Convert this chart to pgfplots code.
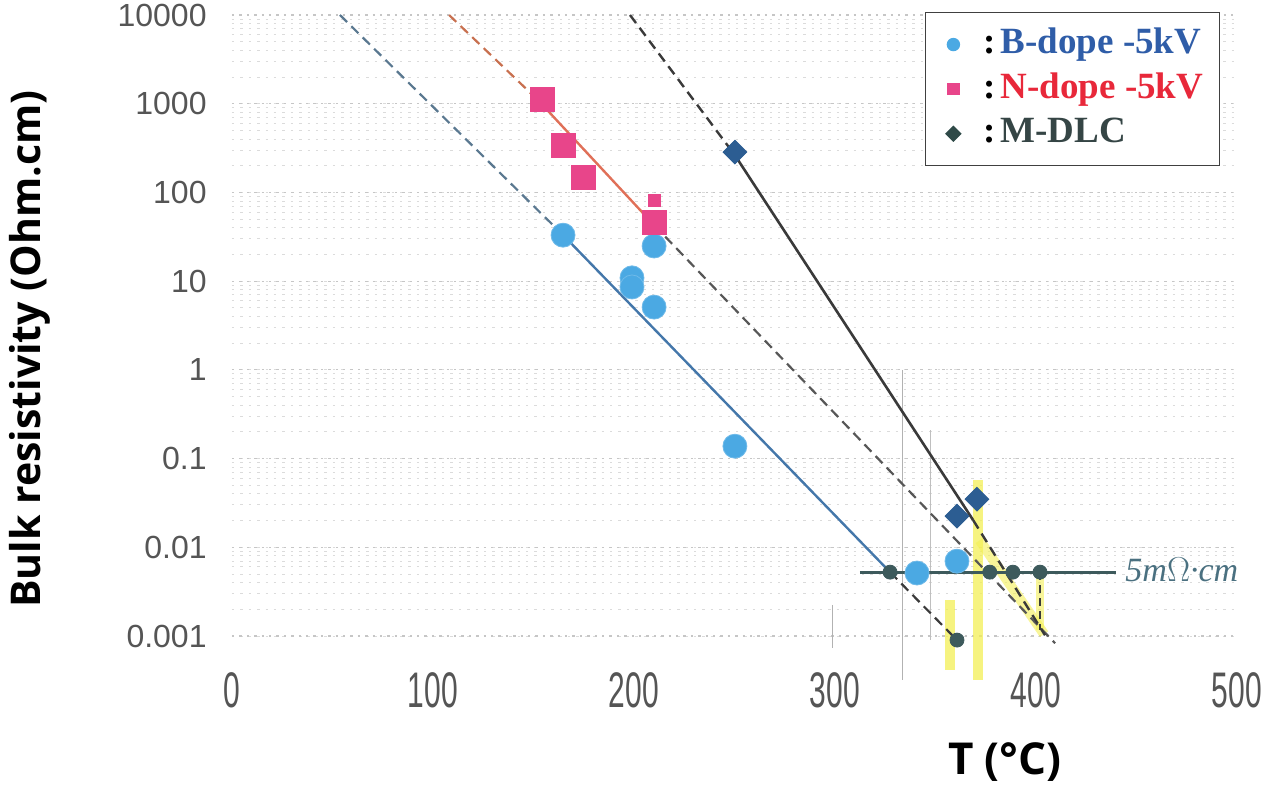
\documentclass[border=0pt]{standalone}
\usepackage{fontspec}
\setmainfont{Liberation Sans}
\newfontfamily\osans{Open Sans}
\newfontfamily\lserif{Liberation Serif}
\usepackage{graphicx}
\usepackage{pgfplots}
\pgfplotsset{compat=1.18}
\definecolor{cB}{HTML}{4BA9E3}
\definecolor{cN}{HTML}{E8458A}
\definecolor{cM}{HTML}{2C5D92}
\definecolor{cMleg}{HTML}{2F4A48}
\definecolor{cBline}{HTML}{4477AA}
\definecolor{cBdash}{HTML}{5A7890}
\definecolor{cRline}{HTML}{E07058}
\definecolor{cRdash}{HTML}{C8704F}
\definecolor{cDark}{HTML}{3A3A3A}
\definecolor{cHor}{HTML}{3D5A5C}
\definecolor{cHand}{HTML}{4A7080}
\definecolor{cBtext}{HTML}{2F5DA8}
\definecolor{cNtext}{HTML}{E8283A}
\definecolor{cMtext}{HTML}{354545}
\definecolor{tickgray}{HTML}{555555}
\definecolor{hl}{HTML}{F3EF55}
\newcommand\xt[1]{\scalebox{0.6}[1]{#1}}
\begin{document}
\begin{tikzpicture}
\begin{axis}[
  at={(0pt,0pt)}, anchor=south west,
  scale only axis, width=502.5pt, height=315.8pt,
  xmin=0, xmax=500, ymode=log, ymin=7.6e-4, ymax=1e4,
  clip=false,
  axis line style={draw=none},
  major tick length=0pt, minor tick length=0pt,
  xtick={0,100,200,300,400,500},
  xticklabels={\xt{0},\xt{100},\xt{200},\xt{300},\xt{400},\xt{500}},
  ytick={0.001,0.01,0.1,1,10,100,1000,10000},
  yticklabels={0.001,0.01,0.1,1,10,100,1000,10000},
  /pgf/number format/assume math mode=true,
  xticklabel style={font=\fontsize{25}{25}\selectfont, text=tickgray, anchor=north, inner sep=0pt, yshift=-12.7pt},
  yticklabel style={font=\fontsize{16}{18}\selectfont, text=tickgray, anchor=east, inner sep=0pt, xshift=-12.5pt},
  ymajorgrids, yminorgrids,
  major grid style={gray!45, line width=0.6pt, dash pattern=on 1.2pt off 2.5pt},
  minor grid style={gray!28, line width=0.5pt, dash pattern=on 1.2pt off 3pt},
  ylabel={Bulk resistivity (Ohm.cm)},
  ylabel style={font=\osans\bfseries\fontsize{20.5}{22}\selectfont, at={(axis description cs:-0.201,0.471)}, anchor=center},
  xlabel={T (°C)},
  xlabel style={font=\osans\bfseries\fontsize{22}{24}\selectfont, at={(axis description cs:0.769,-0.183)}, anchor=center},
  legend style={at={(axis description cs:0.983,1.005)}, anchor=north east,
    draw=black!75, line width=0.7pt, fill=white,
    font=\lserif\bfseries\fontsize{18.5}{22}\selectfont,
    inner xsep=8pt, inner ysep=7.5pt, row sep=5.3pt, column sep=11pt,
    nodes={inner sep=0pt, text height=13pt, text depth=4pt}},
  legend cell align=left,
]
% highlight and scan marks
\addplot[forget plot, hl, line width=5pt, opacity=0.75] coordinates {(371.1,0.0575) (371.1,3.18e-4)};
\addplot[forget plot, hl, line width=5pt, opacity=0.75] coordinates {(357.2,0.00254) (357.2,4.13e-4)};
\addplot[forget plot, hl, line width=5pt, opacity=0.6] coordinates {(372,0.012) (404,0.00105)};
\addplot[forget plot, hl, line width=4pt, opacity=0.6] coordinates {(402,0.0052) (402,0.00117)};
\addplot[forget plot, gray!60, line width=0.5pt] coordinates {(333.8,1) (333.8,3.2e-4)};
\addplot[forget plot, gray!50, line width=0.5pt] coordinates {(347.3,0.21) (347.3,0.0009)};
\addplot[forget plot, gray!60, line width=0.5pt] coordinates {(299,0.00224) (299,0.00073)};
% B-dope fit
\addplot[forget plot, cBdash, line width=1.1pt, dash pattern=on 5pt off 3pt] coordinates {(53.7,10000) (164.7,33.1)};
\addplot[forget plot, cBline, line width=1.2pt] coordinates {(164.7,33.1) (327.4,0.00525)};
\addplot[forget plot, cDark, line width=1.1pt, dash pattern=on 5pt off 3pt] coordinates {(327.4,0.00525) (360.7,0.0009)};
% N-dope fit
\addplot[forget plot, cRdash, line width=1.1pt, dash pattern=on 5pt off 3pt] coordinates {(108,10000) (152.2,1100)};
\addplot[forget plot, cRline, line width=1.2pt] coordinates {(152.2,1100) (210,42.9)};
\addplot[forget plot, cDark!85, line width=1.1pt, dash pattern=on 5pt off 3pt] coordinates {(210,42.9) (409.5,0.00083)};
% M-DLC fit
\addplot[forget plot, cDark, line width=1.2pt, dash pattern=on 5pt off 3pt] coordinates {(198,10000) (250.2,263)};
\addplot[forget plot, cDark, line width=1.3pt] coordinates {(250.2,263) (368.7,0.0203)};
\addplot[forget plot, cDark, line width=1.2pt, dash pattern=on 5pt off 3pt] coordinates {(368.7,0.0203) (404.5,0.00102)};
% 5 mOhm.cm line
\addplot[forget plot, cHor, line width=1.5pt] coordinates {(312.4,0.00525) (440,0.00525)};
\addplot[forget plot, cDark, line width=1pt, dash pattern=on 4pt off 2.5pt] coordinates {(402,0.00525) (402,0.00117)};
\addplot[forget plot, only marks, mark=*, mark size=3.5pt, mark options={fill=cHor, draw=cHor}] coordinates {(327.4,0.00525) (377,0.00525) (388.5,0.00525) (402,0.00525) (360.7,0.0009)};
\node[anchor=west, text=cHand, font=\lserif\itshape\fontsize{17}{17}\selectfont] at (axis cs:441,0.0056) {5m$\Omega$·cm};
% data
\addplot[only marks, mark=*, mark size=6pt, mark options={fill=cB, draw=cB!80!white},
  legend image code/.code={\path[draw=none,fill=none] (-6pt,0pt) -- (4pt,0pt); \fill[cB] (0pt,0pt) circle (3pt);}]
  coordinates {(164.7,33) (199,10.9) (199,8.6) (210,24.9) (210,5.1) (250.2,0.138) (340.8,0.00513) (360.7,0.00698)};
\addlegendentry{{\color{black}:}\hspace{2.5pt}\textcolor{cBtext}{B-dope -5kV}}
\addplot[only marks, mark=square*, mark size=6pt, mark options={fill=cN, draw=cN},
  legend image code/.code={\path[draw=none,fill=none] (-6pt,0pt) -- (4pt,0pt); \fill[cN] (-2.8pt,-2.8pt) rectangle (2.8pt,2.8pt);}]
  coordinates {(154.2,1130) (164.7,342) (174.6,149) (210,46)};
\addlegendentry{{\color{black}:}\hspace{2.5pt}\textcolor{cNtext}{N-dope -5kV}}
\addplot[forget plot, only marks, mark=square*, mark size=3pt, mark options={fill=cN, draw=cN}]
  coordinates {(210,82)};
\addplot[only marks, mark=square*, mark size=4.2pt, mark options={fill=cM, draw=cM, rotate=45},
  legend image code/.code={\path[draw=none,fill=none] (-6pt,0pt) -- (4pt,0pt); \fill[cMleg] (0pt,3.6pt) -- (3.6pt,0pt) -- (0pt,-3.6pt) -- (-3.6pt,0pt) -- cycle;}]
  coordinates {(250.2,285) (360.7,0.0225) (370.6,0.0349)};
\addlegendentry{{\color{black}:}\hspace{2.5pt}\textcolor{cMtext}{M-DLC}}
\end{axis}
\pgfresetboundingbox
\path[use as bounding box] (-116pt,-70.7pt) rectangle (520.5pt,323.3pt);
\end{tikzpicture}
\end{document}
